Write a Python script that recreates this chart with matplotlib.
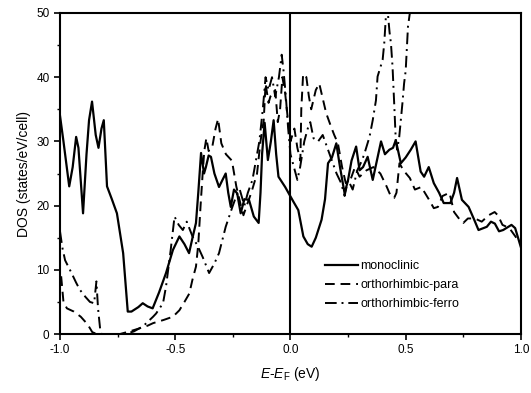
import matplotlib.pyplot as plt
from matplotlib.ticker import MultipleLocator

plt.rcParams['font.family'] = ['Liberation Sans', 'DejaVu Sans']
plt.rcParams['mathtext.fontset'] = 'custom'
plt.rcParams['mathtext.rm'] = 'Liberation Sans'
plt.rcParams['mathtext.it'] = 'Liberation Sans:italic'
plt.rcParams['axes.unicode_minus'] = False

# monoclinic (solid)
mono_e = [-1.0, -0.985, -0.96, -0.945, -0.93, -0.92, -0.90, -0.885, -0.874, -0.861,
          -0.845, -0.833, -0.82, -0.81, -0.796, -0.775, -0.753, -0.726, -0.706, -0.69,
          -0.66, -0.641, -0.62, -0.598, -0.57, -0.54, -0.51, -0.482, -0.46, -0.44,
          -0.425, -0.41, -0.40, -0.388, -0.375, -0.367, -0.355, -0.345, -0.33, -0.31,
          -0.295, -0.281, -0.27, -0.259, -0.245, -0.231, -0.216, -0.2, -0.18, -0.159,
          -0.138, -0.13, -0.123, -0.112, -0.098, -0.085, -0.073, -0.062, -0.052, -0.023,
          0.013, 0.034, 0.056, 0.075, 0.092, 0.11, 0.135, 0.15, 0.163, 0.18,
          0.199, 0.215, 0.235, 0.25, 0.265, 0.285, 0.30, 0.315, 0.335, 0.357,
          0.375, 0.393, 0.41, 0.429, 0.445, 0.457, 0.479, 0.50, 0.522, 0.543,
          0.565, 0.58, 0.60, 0.622, 0.645, 0.665, 0.694, 0.71, 0.723, 0.744,
          0.773, 0.795, 0.816, 0.852, 0.87, 0.887, 0.905, 0.923, 0.959, 0.975, 1.0]
mono_dos = [34, 30, 23, 26, 30.7, 29, 18.8, 28, 33.3, 36.2,
            31, 29, 32, 33.3, 23, 21, 18.8, 12.6, 3.5, 3.5,
            4.2, 4.8, 4.3, 4.0, 6.5, 9.5, 13.1, 15.2, 14, 12.6,
            15, 17.3, 22, 28.2, 25, 26, 27.8, 27.6, 25, 22.9,
            24, 25, 22, 19.8, 22.5, 21.9, 18.8, 21, 20.9, 18.3,
            17.3, 22, 28.1, 32.9, 27.1, 30, 33.3, 28, 24.5, 22.9,
            20.6, 19.3, 15.2, 14, 13.6, 15, 17.8, 21, 26.6, 27.5,
            29.7, 26, 21.9, 24, 27, 29.2, 25.5, 26, 27.6, 24,
            27, 30, 28, 28.7, 29, 30.2, 26.6, 27.5, 28.7, 30,
            25.3, 24.5, 26, 23.5, 22, 20.4, 20.4, 22, 24.3, 20.9,
            19.8, 18, 16.2, 16.7, 17.5, 17.2, 16, 16.2, 17, 16.5, 13.5]

# orthorhombic-para (dashed)
para_e = [-0.995, -0.985, -0.97, -0.94, -0.91, -0.88, -0.86, -0.84, -0.80, -0.74,
          -0.73, -0.69, -0.654, -0.62, -0.596, -0.55, -0.51, -0.482, -0.46, -0.439,
          -0.425, -0.41, -0.40, -0.39, -0.381, -0.374, -0.365, -0.355, -0.34, -0.325,
          -0.314, -0.30, -0.28, -0.254, -0.235, -0.215, -0.204, -0.19, -0.17, -0.145,
          -0.13, -0.116, -0.108, -0.095, -0.087, -0.066, -0.055, -0.045, -0.035, -0.023,
          -0.01, 0.0, 0.017, 0.03, 0.043, 0.047, 0.055, 0.069, 0.08, 0.09,
          0.11, 0.125, 0.138, 0.155, 0.176, 0.19, 0.206, 0.224, 0.24, 0.26,
          0.28, 0.30, 0.33, 0.36, 0.39, 0.417, 0.435, 0.45, 0.46, 0.473,
          0.49, 0.518, 0.54, 0.568, 0.60, 0.622, 0.64, 0.66, 0.69, 0.71,
          0.735, 0.75, 0.77, 0.80, 0.83, 0.86, 0.886, 0.90, 0.92, 0.95, 0.97, 1.0]
para_dos = [9, 5, 4, 3.5, 2.7, 1.5, 0.3, 0, 0, 0,
            0.1, 0.5, 0.9, 1.3, 1.7, 2.2, 2.7, 3.7, 5, 6.3,
            8.5, 10.5, 14, 20, 25, 28.5, 30.5, 28.5, 29, 32,
            33.5, 29.7, 28, 27, 23, 20, 18.5, 20, 22, 25,
            30, 33.3, 39, 36, 37, 38, 33, 35, 40, 37.5,
            33, 30, 32, 29, 27, 35, 40.5, 40, 37, 35,
            38, 39, 37, 34.4, 32.3, 31, 29.7, 26, 23.5, 24,
            26, 24.5, 25.5, 26, 25, 23, 21.5, 21.2, 22, 26.6,
            25.5, 24.3, 22.5, 22.9, 21, 19.6, 19.8, 21.5, 22, 19,
            17.8, 17.3, 18, 18, 17.5, 18.5, 19, 18.5, 17, 16.5, 15.5, 14]

# orthorhombic-ferro (dash-dot)
ferro_e = [-1.0, -0.99, -0.978, -0.95, -0.93, -0.914, -0.89, -0.87, -0.852, -0.842,
           -0.835, -0.825, -0.82, -0.72, -0.68, -0.64, -0.596, -0.583, -0.553, -0.54,
           -0.52, -0.503, -0.485, -0.467, -0.45, -0.425, -0.40, -0.381, -0.353, -0.33,
           -0.31, -0.281, -0.252, -0.235, -0.22, -0.20, -0.185, -0.165, -0.15, -0.135,
           -0.12, -0.108, -0.095, -0.08, -0.066, -0.05, -0.038, -0.03, -0.02, -0.01,
           0.0, 0.015, 0.03, 0.042, 0.06, 0.075, 0.086, 0.10, 0.12, 0.14,
           0.16, 0.18, 0.20, 0.22, 0.235, 0.25, 0.27, 0.29, 0.31, 0.321,
           0.343, 0.357, 0.371, 0.378, 0.40, 0.407, 0.414, 0.42, 0.43, 0.436,
           0.443, 0.45, 0.457, 0.463, 0.472, 0.486, 0.493, 0.50, 0.51, 0.52, 0.53]
ferro_dos = [16, 13.5, 11.5, 9.5, 8, 6.9, 5.8, 5.0, 4.8, 8.2,
             4, 0.5, 0, 0, 0.4, 1.2, 2.7, 3.2, 4.8, 7.4,
             13, 18.3, 17, 16.2, 17.5, 15.2, 13.5, 12.0, 9.5, 11,
             12.6, 16.7, 19.8, 21.5, 22.5, 20, 22, 24, 27, 30,
             35, 40, 38, 40, 37, 40, 43.5, 41, 37, 32,
             28, 26, 24, 26, 30, 32, 33, 30.5, 30, 31,
             29, 27, 25, 23.5, 21.5, 24, 22.5, 25.5, 27, 28.1,
             30.7, 33.3, 36.4, 40.1, 42.7, 45.3, 49.4, 51, 47, 45.3,
             41.6, 36, 30.2, 28.7, 30.7, 36, 39, 41, 47.9, 50.5, 55]

fig = plt.figure(figsize=(5.31, 3.93), dpi=100)
ax = fig.add_axes([0.113, 0.150, 0.868, 0.817])

ax.plot(mono_e, mono_dos, color='black', lw=1.6, label='monoclinic')
ax.plot(para_e, para_dos, color='black', lw=1.4, dashes=(5, 3), label='orthorhimbic-para')
ax.plot(ferro_e, ferro_dos, color='black', lw=1.4, dashes=(6, 2.5, 1, 2.5),
        label='orthorhimbic-ferro')
ax.axvline(0, color='black', lw=1.5)

ax.set_xlim(-1.0, 1.0)
ax.set_ylim(0, 50)
ax.xaxis.set_major_locator(MultipleLocator(0.5))
ax.xaxis.set_minor_locator(MultipleLocator(0.25))
ax.yaxis.set_major_locator(MultipleLocator(10))
ax.yaxis.set_minor_locator(MultipleLocator(5))
ax.tick_params(which='major', direction='out', length=4, width=1.2, labelsize=8.5)
ax.tick_params(which='minor', direction='out', length=2, width=1.0)
for s in ax.spines.values():
    s.set_linewidth(1.5)

ax.set_xlabel(r'$E$-$E_\mathrm{F}$ (eV)', fontsize=10, labelpad=6)
ax.set_ylabel('DOS (states/eV/cell)', fontsize=10, labelpad=4)

ax.legend(loc='lower right', bbox_to_anchor=(0.89, 0.04), frameon=False,
          fontsize=9, handlelength=2.6, handletextpad=0.2, labelspacing=0.55)

fig.savefig('out.png', dpi=100)
